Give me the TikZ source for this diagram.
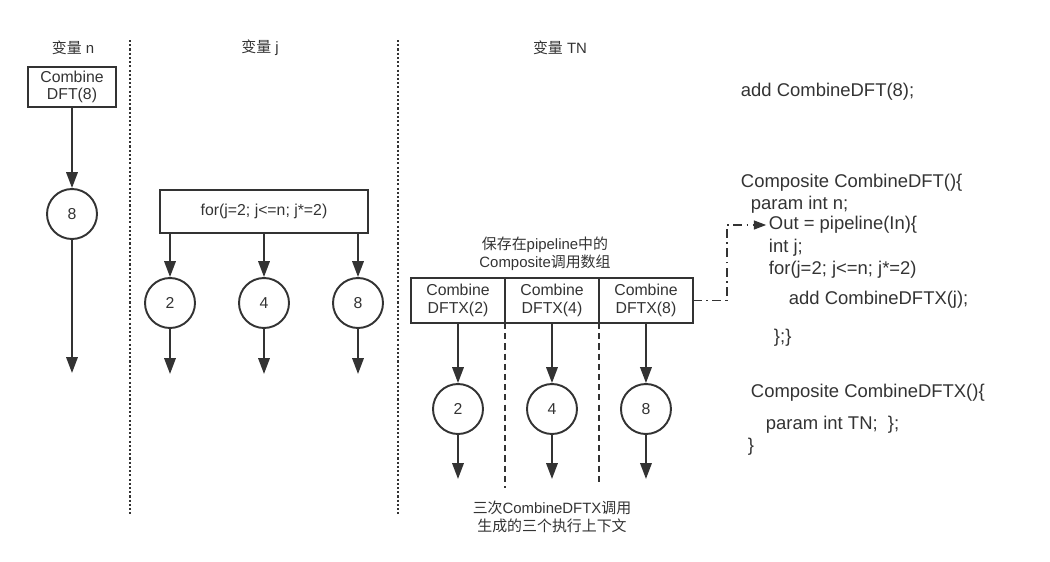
\documentclass[tikz,border=0pt]{standalone}
\usepackage{fontspec}
\setmainfont{Liberation Sans}
\newfontfamily\cjk{Noto Sans CJK SC}
\usetikzlibrary{positioning,arrows.meta}
\definecolor{myline}{RGB}{51,51,51}
\begin{document}
\begin{tikzpicture}[x=0.02cm,y=-0.02cm,color=myline,line width=1.1pt,
  >={Triangle[length=9pt,width=6.5pt]},
  lab/.style={font=\fontsize{8.5}{10.5}\selectfont,align=center,inner sep=1pt},
  cbox/.style={draw,line width=1.3pt,align=center,font=\fontsize{9}{10}\selectfont,inner sep=1pt,outer sep=0pt},
  cnode/.style={draw,circle,minimum size=1cm,inner sep=0pt,font=\fontsize{9}{10}\selectfont},
  code/.style={anchor=west,inner sep=0pt,text height=7pt,text depth=2pt,font=\fontsize{10.5}{12}\selectfont},
  sepline/.style={line width=1.2pt,dash pattern=on 1.2pt off 1.2pt},
  ctxline/.style={line width=1.2pt,dash pattern=on 3.5pt off 2.3pt},
  call/.style={-{Triangle[length=7pt,width=5pt]},line width=1pt,shorten >=1pt,dash pattern=on 5pt off 2.5pt on 1pt off 2.5pt}]
  \useasboundingbox (0,0) rectangle (1050,561);

  % column headers
  \node[lab] (hn) at (73,48) {{\cjk 变量} n};
  \node[lab] (hj) at (260,48) {{\cjk 变量} j};
  \node[lab] (htn) at (560,48) {{\cjk 变量} TN};

  % dotted column separators
  \coordinate (s1a) at (130,40); \coordinate (s1b) at (130,515);
  \coordinate (s2a) at (398,40); \coordinate (s2b) at (398,515);
  \draw[sepline] (s1a) -- (s1b);
  \draw[sepline] (s2a) -- (s2b);

  % variable n
  \node[cbox,minimum width=1.76cm,minimum height=0.8cm] (dft) at (72,87) {Combine\\DFT(8)};
  \node[cnode] (n8) at (72,214) {8};
  \coordinate (en8) at (72,373);
  \draw[->] (dft) -- (n8);
  \draw[->] (n8) -- (en8);

  % variable j
  \node[cbox,minimum width=4.16cm,minimum height=0.86cm] (loopbox) at (264,211.5) {for(j=2; j<=n; j*=2)};
  \node[cnode] (j2) at (170,303) {2};
  \node[cnode] (j4) at (264,303) {4};
  \node[cnode] (j8) at (358,303) {8};
  \foreach \c in {j2,j4,j8} {
    \coordinate (e\c) at ([yshift=-45*0.02cm]\c.south);
    \draw[->] (loopbox.south -| \c) -- (\c);
    \draw[->] (\c) -- (e\c);
  }

  % variable TN
  \node[lab] (arr) at (545,254) {{\cjk 保存在}pipeline{\cjk 中的}\\Composite{\cjk 调用数组}};
  \node[cbox,minimum width=1.88cm,minimum height=0.9cm] (cx2) at (458,300.5) {Combine\\DFTX(2)};
  \node[cbox,minimum width=1.88cm,minimum height=0.9cm,right=0pt of cx2] (cx4) {Combine\\DFTX(4)};
  \node[cbox,minimum width=1.88cm,minimum height=0.9cm,right=0pt of cx4] (cx8) {Combine\\DFTX(8)};
  \node[cnode] (t2) at (cx2 |- 0,409) {2};
  \node[cnode] (t4) at (cx4 |- 0,409) {4};
  \node[cnode] (t8) at (cx8 |- 0,409) {8};
  \foreach \c/\b in {t2/cx2,t4/cx4,t8/cx8} {
    \coordinate (e\c) at ([yshift=-44*0.02cm]\c.south);
    \draw[->] (\b) -- (\c);
    \draw[->] (\c) -- (e\c);
  }
  \coordinate (d1) at (cx2.east |- 0,488);
  \coordinate (d2) at (cx4.east |- 0,486);
  \draw[ctxline] (cx2.south east) -- (d1);
  \draw[ctxline] (cx4.south east) -- (d2);
  \node[lab] (ctx) at (552,517) {{\cjk 三次}CombineDFTX{\cjk 调用}\\{\cjk 生成的三个执行上下文}};

  % code on the right
  \node[code] (add) at (740,92) {add CombineDFT(8);};
  \node[code] (comp) at (740,183) {Composite CombineDFT()\{};
  \node[code] (par) at (750,205) {param int n;};
  \node[code] (out) at (768,225) {Out = pipeline(In)\{};
  \node[code] (intj) at (768,248) {int j;};
  \node[code] (loop) at (768,270) {for(j=2; j<=n; j*=2)};
  \node[code] (addx) at (788,300) {add CombineDFTX(j);};
  \node[code] (close) at (773,338) {\};\}};
  \node[code] (compx) at (750,393) {Composite CombineDFTX()\{};
  \node[code] (parx) at (765,425) {param int TN;~~\};};
  \node[code] (closex) at (747,447) {\}};

  \draw[call] (cx8.east) -- ++(34,0) |- (out.west);
\end{tikzpicture}
\end{document}
